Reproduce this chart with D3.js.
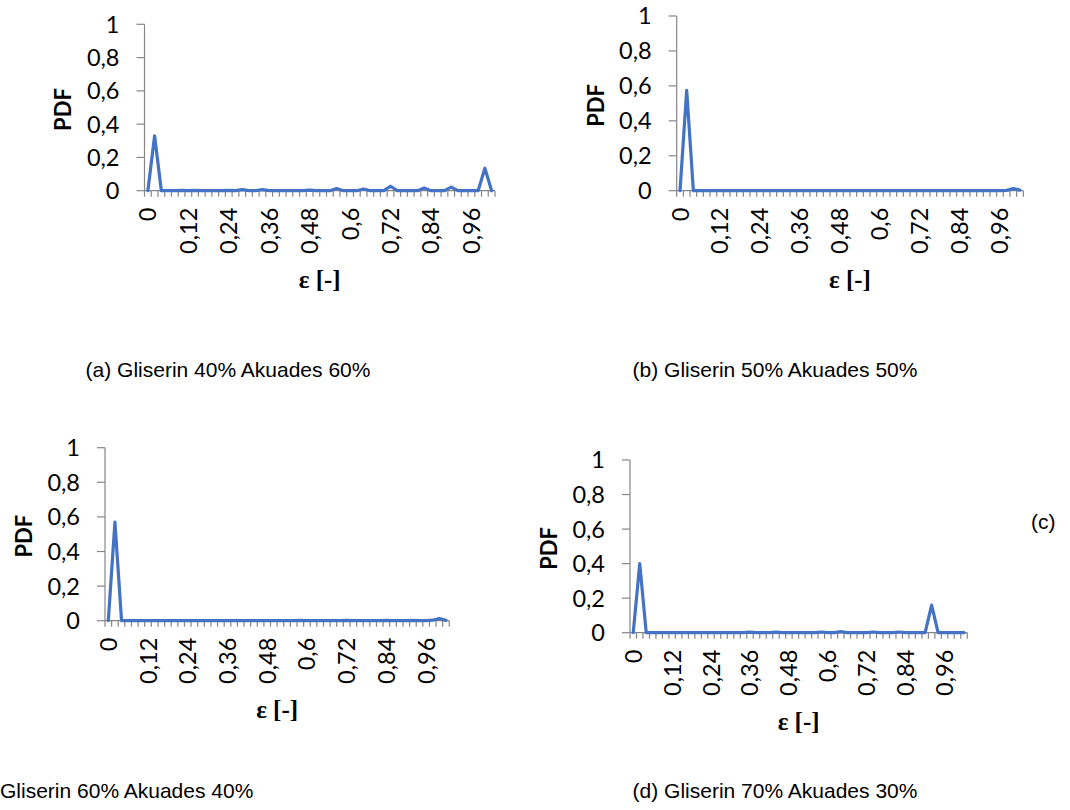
<!DOCTYPE html>
<html>
<head>
<meta charset="utf-8">
<script src="https://cdn.jsdelivr.net/npm/d3@7"></script>
<style>
  html, body { margin: 0; padding: 0; background: #fff; }
  svg { display: block; }
</style>
</head>
<body>
<svg id="chart" width="1070" height="810"></svg>
<script>
// ---- DATA ----
const categories = [0, 0.02, 0.04, 0.06, 0.08, 0.1, 0.12, 0.14, 0.16, 0.18,
  0.2, 0.22, 0.24, 0.26, 0.28, 0.3, 0.32, 0.34, 0.36, 0.38,
  0.4, 0.42, 0.44, 0.46, 0.48, 0.5, 0.52, 0.54, 0.56, 0.58,
  0.6, 0.62, 0.64, 0.66, 0.68, 0.7, 0.72, 0.74, 0.76, 0.78,
  0.8, 0.82, 0.84, 0.86, 0.88, 0.9, 0.92, 0.94, 0.96, 0.98,
  1, 1.02];
const xTickLabels = ["0", "0,12", "0,24", "0,36", "0,48", "0,6", "0,72", "0,84", "0,96"];
const yTicks = [0, 0.2, 0.4, 0.6, 0.8, 1];
const yTickLabels = ["0", "0,2", "0,4", "0,6", "0,8", "1"];

const pdfA = [0, 0.33, 0, 0, 0, 0.002, 0, 0.002, 0, 0,
  0, 0, 0.002, 0, 0.006, 0, 0, 0.006, 0, 0,
  0, 0, 0, 0, 0.003, 0, 0, 0, 0.013, 0,
  0, 0, 0.01, 0, 0, 0, 0.027, 0, 0, 0,
  0, 0.016, 0, 0, 0, 0.022, 0, 0, 0, 0,
  0.135, 0];
const pdfB = [0, 0.575, 0, 0, 0, 0, 0, 0, 0, 0,
  0, 0, 0, 0, 0, 0, 0, 0, 0, 0,
  0, 0, 0, 0, 0, 0, 0, 0, 0, 0,
  0, 0, 0, 0, 0, 0, 0, 0, 0, 0,
  0, 0, 0, 0, 0, 0, 0, 0, 0, 0.002,
  0.012, 0.003];
const pdfC = [0, 0.57, 0, 0, 0, 0, 0, 0, 0, 0,
  0, 0, 0, 0, 0, 0, 0, 0, 0, 0,
  0, 0, 0, 0, 0, 0, 0, 0, 0, 0.002,
  0, 0, 0, 0, 0, 0, 0.002, 0, 0, 0,
  0, 0, 0.002, 0, 0, 0, 0.002, 0, 0, 0.003,
  0.013, 0.002];
const pdfD = [0, 0.4, 0, 0, 0, 0, 0, 0, 0, 0,
  0, 0, 0, 0, 0, 0, 0, 0, 0.003, 0,
  0, 0, 0.003, 0, 0, 0, 0, 0, 0, 0.004,
  0, 0, 0.006, 0, 0, 0, 0, 0.004, 0, 0,
  0, 0.004, 0, 0, 0, 0, 0.16, 0, 0, 0,
  0, 0];

const captions = ["(a) Gliserin 40% Akuades 60%", "(b) Gliserin 50% Akuades 50%",
  "Gliserin 60% Akuades 40%", "(d) Gliserin 70% Akuades 30%", "(c)"];
const yTitle = "PDF";
const xTitle = "ε [-]";

// ---- LAYOUT ----
const panels = [
  { data: pdfA, x0: 144.5, x1: 495,   yTop: 24.3, yBot: 190.7 },
  { data: pdfB, x0: 676.7, x1: 1023.3, yTop: 16,  yBot: 190.7 },
  { data: pdfC, x0: 105,   x1: 449.3, yTop: 447.7, yBot: 620.7 },
  { data: pdfD, x0: 630,   x1: 967.3, yTop: 460,  yBot: 632.7 }
];

const svg = d3.select("#chart");
const axisColor = "#868686";
const lineColor = "#4472C4";
const fmt = v => String(+v.toFixed(2)).replace(".", ",");

panels.forEach(p => {
  const g = svg.append("g");
  const x = d3.scaleBand().domain(categories.map(String)).range([p.x0, p.x1]).paddingInner(0).paddingOuter(0);
  const y = d3.scaleLinear().domain([0, 1]).range([p.yBot, p.yTop]);
  const cx = c => x(String(c)) + x.bandwidth() / 2;

  // y axis line and ticks
  g.append("line").attr("x1", p.x0).attr("x2", p.x0).attr("y1", y(1)).attr("y2", y(0))
    .attr("stroke", axisColor).attr("stroke-width", 1.2);
  g.selectAll(".yt").data(yTicks).enter().append("line")
    .attr("x1", p.x0 - 8).attr("x2", p.x0).attr("y1", d => y(d)).attr("y2", d => y(d))
    .attr("stroke", axisColor).attr("stroke-width", 1.2);
  g.selectAll(".yl").data(yTicks).enter().append("text")
    .attr("x", p.x0 - 25).attr("y", d => y(d)).attr("dy", "0.36em")
    .attr("text-anchor", "end")
    .style("font-family", "Lato, 'Noto Sans', sans-serif").style("font-size", "23.5px").attr("fill", "#000")
    .text((d, i) => yTickLabels[i]);

  // x axis line and ticks at category boundaries
  g.append("line").attr("x1", p.x0).attr("x2", p.x1).attr("y1", y(0)).attr("y2", y(0))
    .attr("stroke", axisColor).attr("stroke-width", 1.2);
  const bounds = categories.map(c => x(String(c))).concat([p.x1]);
  g.selectAll(".xt").data(bounds).enter().append("line")
    .attr("x1", d => d).attr("x2", d => d).attr("y1", y(0)).attr("y2", y(0) + 6)
    .attr("stroke", axisColor).attr("stroke-width", 1.2);
  const labeled = categories.filter(c => xTickLabels.includes(fmt(c)));
  g.selectAll(".xl").data(labeled).enter().append("text")
    .attr("transform", d => `translate(${cx(d)},${y(0) + 17}) rotate(-90)`)
    .attr("dy", "0.36em").attr("text-anchor", "end")
    .style("font-family", "Lato, 'Noto Sans', sans-serif").style("font-size", "23.5px").attr("fill", "#000")
    .text(d => fmt(d));

  // line
  const line = d3.line().x((d, i) => cx(categories[i])).y(d => y(d));
  g.append("path").datum(p.data).attr("d", line)
    .attr("fill", "none").attr("stroke", lineColor).attr("stroke-width", 3.2)
    .attr("stroke-linejoin", "round").attr("stroke-linecap", "round");

  // axis titles
  g.append("text")
    .attr("transform", `translate(${p.x0 - 81},${(p.yTop + p.yBot) / 2 + 2}) rotate(-90)`)
    .attr("text-anchor", "middle").attr("dy", "0.36em")
    .style("font-family", "Lato, 'Noto Sans', sans-serif").style("font-size", "22px").style("font-weight", "bold")
    .attr("fill", "#000").text(yTitle);
  g.append("text")
    .attr("x", (p.x0 + p.x1) / 2).attr("y", p.yBot + 97)
    .attr("text-anchor", "middle")
    .style("font-family", "'Liberation Serif', 'DejaVu Serif', serif").style("font-size", "25px").style("font-weight", "bold")
    .attr("fill", "#000").text(xTitle);
});

// captions
const capStyle = sel => sel.style("font-family", "'Liberation Sans', Arial, sans-serif").style("font-size", "21px").attr("fill", "#000");
svg.append("text").attr("x", 228).attr("y", 377).attr("text-anchor", "middle").call(capStyle).text(captions[0]);
svg.append("text").attr("x", 775).attr("y", 377).attr("text-anchor", "middle").call(capStyle).text(captions[1]);
svg.append("text").attr("x", 0).attr("y", 798).attr("text-anchor", "start").call(capStyle).text(captions[2]);
svg.append("text").attr("x", 775).attr("y", 798).attr("text-anchor", "middle").call(capStyle).text(captions[3]);
svg.append("text").attr("x", 1031).attr("y", 529).attr("text-anchor", "start").call(capStyle).text(captions[4]);
</script>
</body>
</html>
